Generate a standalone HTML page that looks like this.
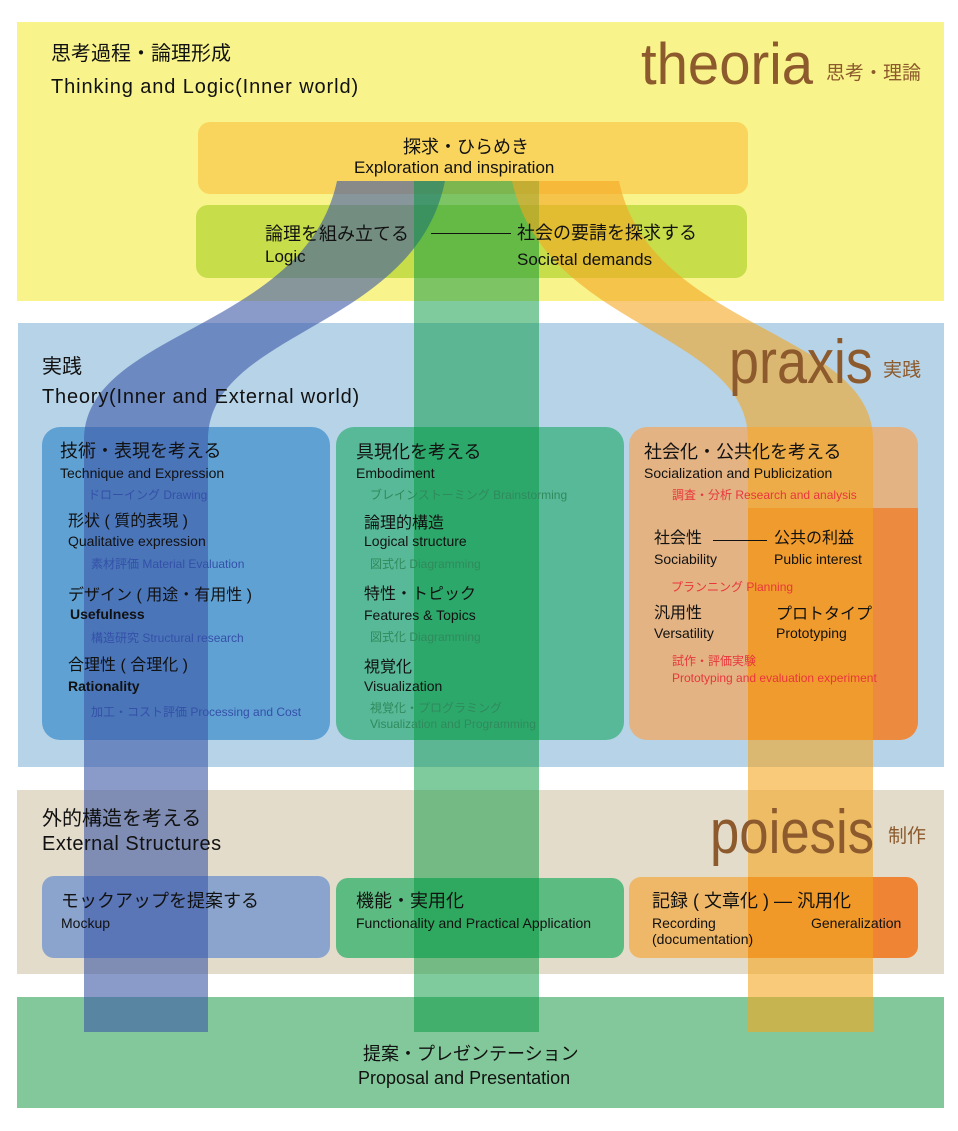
<!DOCTYPE html>
<html><head><meta charset="utf-8">
<style>
body{margin:0;width:958px;height:1131px;background:#fff;position:relative;overflow:hidden;font-family:"Liberation Sans","Noto Sans CJK JP",sans-serif;color:#111}
.a{position:absolute}
.t{position:absolute;white-space:nowrap;line-height:1}
.j18{font-size:18px}.e14{font-size:14px}.s12{font-size:12px}.j15{font-size:16px}
.bl{color:#3450a8}.gr{color:#2f8a5c}.rd{color:#e8363c}
.big{font-family:"Liberation Sans",sans-serif;color:#8c5a2c;transform-origin:left bottom}
.br{color:#8c5a2c}
</style></head><body>
<!-- bands -->
<div class="a" style="left:17px;top:22px;width:927px;height:279px;background:#f8f38a"></div>
<div class="a" style="left:18px;top:323px;width:926px;height:444px;background:#b7d3e8"></div>
<div class="a" style="left:17px;top:790px;width:927px;height:184px;background:#e4dccb"></div>
<div class="a" style="left:17px;top:997px;width:927px;height:111px;background:#82c89a"></div>
<!-- theoria boxes -->
<div class="a" style="left:198px;top:122px;width:550px;height:72px;background:#f9d55e;border-radius:12px"></div>
<div class="a" style="left:196px;top:205px;width:551px;height:73px;background:#c7dd4a;border-radius:12px"></div>
<!-- praxis boxes -->
<div class="a" style="left:42px;top:427px;width:288px;height:313px;background:#60a1d4;border-radius:18px"></div>
<div class="a" style="left:336px;top:427px;width:288px;height:313px;background:#58b998;border-radius:18px"></div>
<div class="a" style="left:629px;top:427px;width:289px;height:313px;background:#e3b383;border-radius:18px;overflow:hidden"><div class="a" style="left:119px;top:81px;width:170px;height:232px;background:#ec8a40"></div></div>
<!-- poiesis boxes -->
<div class="a" style="left:42px;top:876px;width:288px;height:82px;background:#8aa4cd;border-radius:12px"></div>
<div class="a" style="left:336px;top:878px;width:288px;height:80px;background:#5cbb80;border-radius:12px"></div>
<div class="a" style="left:629px;top:877px;width:289px;height:81px;background:#efb768;border-radius:12px;overflow:hidden"><div class="a" style="left:119px;top:0;width:170px;height:81px;background:#ee8434"></div></div>
<!-- streams -->
<svg class="a" style="left:0;top:0" width="958" height="1131">
<path d="M337,181 C305,330 84,330 84,440 L84,1032 L208,1032 L208,440 C208,330 415,330 445,181 Z" fill="rgb(60,88,167)" fill-opacity="0.6"/>
<rect x="414" y="181" width="125" height="851" fill="rgb(1,151,61)" fill-opacity="0.5"/>
<path d="M512,181 C545,330 748,330 748,440 L748,1032 L873,1032 L873,440 C873,330 650,330 619,181 Z" fill="rgb(243,167,33)" fill-opacity="0.6"/>
</svg>
<!-- theoria text -->
<div class="t" style="left:51px;top:44px;font-size:20px">思考過程・論理形成</div>
<div class="t" style="left:51px;top:77px;font-size:20px;letter-spacing:0.9px">Thinking and Logic(Inner world)</div>
<div class="t big" style="left:641px;top:36px;font-size:58px;transform:scaleX(0.97)">theoria</div>
<div class="t br" style="left:826px;top:64px;font-size:19px">思考・理論</div>
<div class="t j18" style="left:403px;top:138px">探求・ひらめき</div>
<div class="t" style="left:354px;top:159px;font-size:17px">Exploration and inspiration</div>
<div class="t j18" style="left:265px;top:225px">論理を組み立てる</div>
<div class="a" style="left:431px;top:233px;width:80px;height:1px;background:#111"></div>
<div class="t j18" style="left:517px;top:224px">社会の要請を探求する</div>
<div class="t" style="left:265px;top:248px;font-size:17px">Logic</div>
<div class="t" style="left:517px;top:251px;font-size:17px">Societal demands</div>
<!-- praxis text -->
<div class="t" style="left:42px;top:357px;font-size:20px">実践</div>
<div class="t" style="left:42px;top:387px;font-size:20px;letter-spacing:0.8px">Theory(Inner and External world)</div>
<div class="t big" style="left:729px;top:332px;font-size:62px;transform:scaleX(0.87)">praxis</div>
<div class="t br" style="left:883px;top:361px;font-size:19px">実践</div>

<div class="t j18" style="left:60px;top:442px">技術・表現を考える</div>
<div class="t e14" style="left:60px;top:466px">Technique and Expression</div>
<div class="t s12 bl" style="left:88px;top:489px">ドローイング Drawing</div>
<div class="t j15" style="left:68px;top:514px">形状 ( 質的表現 )</div>
<div class="t e14" style="left:68px;top:534px">Qualitative expression</div>
<div class="t s12 bl" style="left:91px;top:558px">素材評価 Material Evaluation</div>
<div class="t j15" style="left:68px;top:588px">デザイン ( 用途・有用性 )</div>
<div class="t e14" style="left:70px;top:607px;font-weight:bold">Usefulness</div>
<div class="t s12 bl" style="left:91px;top:632px">構造研究 Structural research</div>
<div class="t j15" style="left:68px;top:658px">合理性 ( 合理化 )</div>
<div class="t e14" style="left:68px;top:679px;font-weight:bold">Rationality</div>
<div class="t s12 bl" style="left:91px;top:706px">加工・コスト評価 Processing and Cost</div>

<div class="t j18" style="left:356px;top:443px">具現化を考える</div>
<div class="t e14" style="left:356px;top:466px">Embodiment</div>
<div class="t s12 gr" style="left:370px;top:489px">ブレインストーミング Brainstorming</div>
<div class="t j15" style="left:364px;top:516px">論理的構造</div>
<div class="t e14" style="left:364px;top:534px">Logical structure</div>
<div class="t s12 gr" style="left:370px;top:558px">図式化 Diagramming</div>
<div class="t j15" style="left:364px;top:587px">特性・トピック</div>
<div class="t e14" style="left:364px;top:608px">Features &amp; Topics</div>
<div class="t s12 gr" style="left:370px;top:631px">図式化 Diagramming</div>
<div class="t j15" style="left:364px;top:660px">視覚化</div>
<div class="t e14" style="left:364px;top:679px">Visualization</div>
<div class="t s12 gr" style="left:370px;top:702px">視覚化・プログラミング</div>
<div class="t s12 gr" style="left:370px;top:718px">Visualization and Programming</div>

<div class="t j18" style="left:644px;top:443px">社会化・公共化を考える</div>
<div class="t e14" style="left:644px;top:466px">Socialization and Publicization</div>
<div class="t s12 rd" style="left:672px;top:489px">調査・分析 Research and analysis</div>
<div class="t j15" style="left:654px;top:531px">社会性</div>
<div class="a" style="left:713px;top:540px;width:54px;height:1px;background:#111"></div>
<div class="t j15" style="left:774px;top:531px">公共の利益</div>
<div class="t e14" style="left:654px;top:552px">Sociability</div>
<div class="t e14" style="left:774px;top:552px">Public interest</div>
<div class="t s12 rd" style="left:671px;top:581px">プランニング Planning</div>
<div class="t j15" style="left:654px;top:606px">汎用性</div>
<div class="t j15" style="left:776px;top:607px">プロトタイプ</div>
<div class="t e14" style="left:654px;top:626px">Versatility</div>
<div class="t e14" style="left:776px;top:626px">Prototyping</div>
<div class="t s12 rd" style="left:672px;top:655px">試作・評価実験</div>
<div class="t s12 rd" style="left:672px;top:672px">Prototyping and evaluation experiment</div>
<!-- poiesis text -->
<div class="t" style="left:42px;top:809px;font-size:20px">外的構造を考える</div>
<div class="t" style="left:42px;top:834px;font-size:20px;letter-spacing:0.5px">External Structures</div>
<div class="t big" style="left:710px;top:802px;font-size:62px;transform:scaleX(0.85)">poiesis</div>
<div class="t br" style="left:888px;top:827px;font-size:19px">制作</div>
<div class="t j18" style="left:61px;top:892px">モックアップを提案する</div>
<div class="t e14" style="left:61px;top:916px">Mockup</div>
<div class="t j18" style="left:356px;top:892px">機能・実用化</div>
<div class="t e14" style="left:356px;top:916px">Functionality and Practical Application</div>
<div class="t j18" style="left:652px;top:892px">記録 ( 文章化 ) ― 汎用化</div>
<div class="t e14" style="left:652px;top:916px">Recording</div>
<div class="t e14" style="left:652px;top:932px">(documentation)</div>
<div class="t e14" style="left:811px;top:916px">Generalization</div>
<!-- bottom -->
<div class="t j18" style="left:363px;top:1045px">提案・プレゼンテーション</div>
<div class="t" style="left:358px;top:1069px;font-size:18px">Proposal and Presentation</div>
</body></html>
